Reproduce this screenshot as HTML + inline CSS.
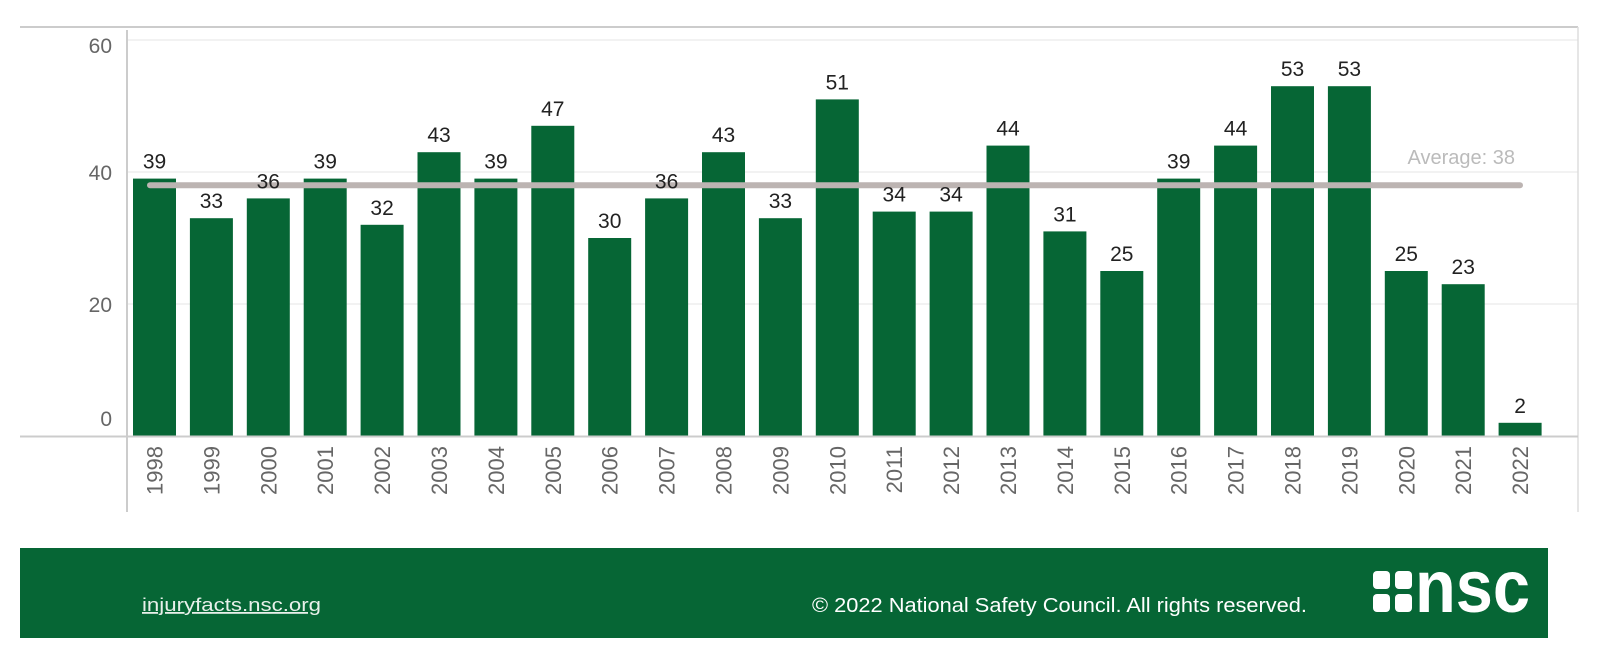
<!DOCTYPE html>
<html><head><meta charset="utf-8"><style>
body{margin:0;background:#fff;width:1600px;height:666px;overflow:hidden;font-family:"Liberation Sans",sans-serif}
svg{position:absolute;left:0;top:0}
</style></head><body>
<svg width="1600" height="666">
<g id="grid"></g>
<line x1="20" y1="27" x2="1578" y2="27" stroke="#ccc" stroke-width="2"/>
<line x1="127" y1="30" x2="127" y2="512" stroke="#ccc" stroke-width="2"/>
<line x1="1578" y1="27" x2="1578" y2="512" stroke="#ddd" stroke-width="1.5"/>
<g id="bars"></g>
<line x1="20" y1="436.5" x2="1578" y2="436.5" stroke="#ccc" stroke-width="2"/>
<g id="avg"></g>
<g id="labels"></g>
<rect x="20" y="548" width="1528" height="90" fill="#066635"/>
<text x="142" y="611" fill="#e8f0ea" font-size="18" textLength="179" lengthAdjust="spacingAndGlyphs" text-decoration="underline">injuryfacts.nsc.org</text>
<text x="812" y="612" fill="#fff" font-size="20" textLength="495" lengthAdjust="spacingAndGlyphs">© 2022 National Safety Council. All rights reserved.</text>
<g fill="#fff">
<rect x="1373" y="571" width="17" height="18" rx="4"/><rect x="1373" y="594" width="17" height="18" rx="4"/>
<rect x="1395" y="571" width="17" height="18" rx="4"/><rect x="1395" y="594" width="17" height="18" rx="4"/>
<text x="1415" y="612" font-size="74" font-weight="bold" textLength="115" lengthAdjust="spacingAndGlyphs">nsc</text>
</g>
</svg>
<script>
const years=["1998","1999","2000","2001","2002","2003","2004","2005","2006","2007","2008","2009","2010","2011","2012","2013","2014","2015","2016","2017","2018","2019","2020","2021","2022"];
const values=[39,33,36,39,32,43,39,47,30,36,43,33,51,34,34,44,31,25,39,44,53,53,25,23,2];
const yTicks=[0,20,40,60];
const averageValue=38;
const NS="http://www.w3.org/2000/svg";
const y0=436,pxPer=6.6,x0=127,band=56.9,bw=43;
const yS=v=>y0-v*pxPer;
const xS=i=>x0+i*band+6;
function mk(t,a,p){const e=document.createElementNS(NS,t);for(const k in a)e.setAttribute(k,a[k]);p.appendChild(e);return e;}
const grid=document.getElementById('grid'),bars=document.getElementById('bars'),avg=document.getElementById('avg'),labels=document.getElementById('labels');
yTicks.forEach((v,k)=>{
 if(v>0){const l=mk('line',{x1:127,x2:1578,y1:yS(v),y2:yS(v),stroke:'#eee','stroke-width':1.5},grid);
 
 }
 const off=k===0?-10:(k===yTicks.length-1?13:8);
 const t=mk('text',{x:112,y:yS(v)+off,'text-anchor':'end','font-size':21,fill:'#666'},grid);t.textContent=v;
 
 
});
values.forEach((v,i)=>{
 const x=xS(i);
 const r=mk('rect',{x:x,y:yS(v),width:bw,height:v*pxPer,fill:'#066635'},bars);
 
 
 const t=mk('text',{x:x+bw/2,y:yS(v)-10,'text-anchor':'middle','font-size':21,fill:'#222'},labels);t.textContent=v;
 
 
 const cx=x+bw/2;
 const yl=mk('text',{x:0,y:0,'text-anchor':'end','font-size':22,fill:'#666',transform:`translate(${cx+8},446) rotate(-90)`},bars);yl.textContent=years[i];
 
 
});
const al=mk('line',{x1:150,x2:1520,y1:yS(averageValue),y2:yS(averageValue),stroke:'#bcb4b2','stroke-width':6,'stroke-linecap':'round'},avg);


const at=mk('text',{x:1515,y:yS(averageValue)-21,'text-anchor':'end','font-size':20,fill:'#bbb'},avg);at.textContent='Average: '+averageValue;


</script>
</body></html>
